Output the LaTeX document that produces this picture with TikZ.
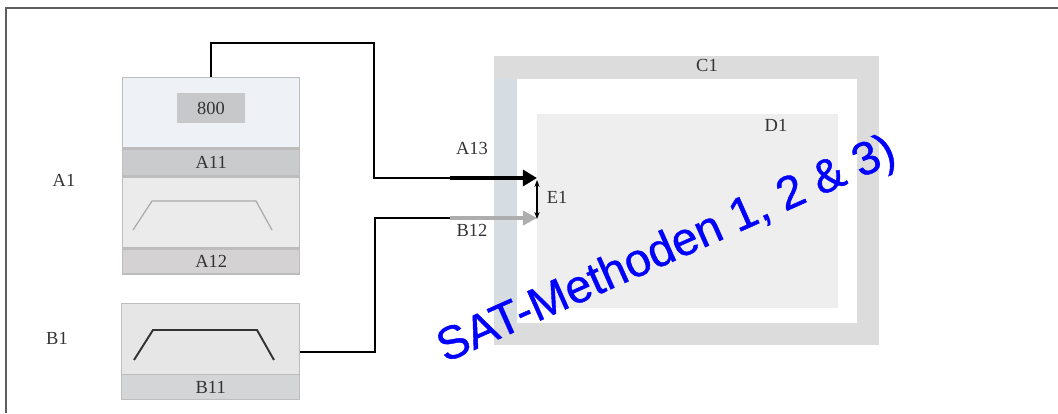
\documentclass[tikz,border=0pt]{standalone}
\usepackage{fontspec}
\setmainfont{Liberation Serif}
\newfontfamily\stampfont[FakeBold=0.9]{Liberation Sans}
\usetikzlibrary{arrows.meta,positioning}
\definecolor{framegray}{HTML}{5E5E5E}
\definecolor{boxline}{HTML}{BDBDBD}
\definecolor{topblue}{HTML}{EEF2F6}
\definecolor{grayband}{HTML}{C9CBCD}
\definecolor{lightarea}{HTML}{EBEBEB}
\definecolor{bandlight}{HTML}{D4D2D2}
\definecolor{boxgray}{HTML}{C6C8CA}
\definecolor{cgray}{HTML}{DCDCDC}
\definecolor{stripblue}{HTML}{D5DCE2}
\definecolor{dgray}{HTML}{EEEEEE}
\definecolor{arrowgray}{HTML}{ADADAD}
\definecolor{labeltext}{HTML}{333333}

\begin{document}
\begin{tikzpicture}[x=0.02cm, y=-0.02cm,
    part/.style={draw=boxline, line width=0.8pt, inner sep=0pt, anchor=north west},
    lbl/.style={font=\fontsize{10.5}{12}\selectfont, text=labeltext},
    wire/.style={line width=1.1pt, black}]
    \useasboundingbox (0,0) rectangle (1058,413);
    \draw[framegray, line width=1.1pt] (6,413) -- (6,8) -- (1058,8);
    % A1 unit
    \node[part, fill=topblue, minimum width=3.54cm, minimum height=1.40cm] (a1top) at (122,77) {};
    \node[fill=boxgray, minimum width=1.38cm, minimum height=0.60cm, lbl] (a1val) at (211,108) {800};
    \node[part, fill=grayband, minimum width=3.54cm, minimum height=0.54cm, below=0pt of a1top, lbl] (a11) {A11};
    \node[part, fill=lightarea, minimum width=3.54cm, minimum height=1.40cm, below=0pt of a11] (a12area) {};
    \node[part, fill=bandlight, minimum width=3.54cm, minimum height=0.50cm, below=0pt of a12area, lbl] (a12) {A12};
    \draw[boxline!90!black, line width=0.7pt] (133,230) -- (152,201) -- (256,201) -- (272,230);
    \node[lbl] (a1lbl) at (64,180) {A1};
    % B1 unit
    \node[part, fill=lightarea!80!bandlight, minimum width=3.56cm, minimum height=1.92cm] (b1) at (121,303) {};
    \node[part, fill=grayband!80!white, minimum width=3.56cm, minimum height=0.50cm, above=0pt of b1.south, lbl] (b11) {B11};
    \draw[labeltext, line width=1.1pt] (134,360) -- (153,330) -- (257,330) -- (274,360);
    \node[lbl] (b1lbl) at (57,338) {B1};
    % C1 and D1
    \node[anchor=north west, fill=cgray, minimum width=7.70cm, minimum height=5.78cm, inner sep=0pt] (c1) at (494,56) {};
    \fill[stripblue] (494,79) rectangle (517,323);
    \node[anchor=north west, fill=white, minimum width=6.80cm, minimum height=4.88cm, inner sep=0pt] (c1in) at (517,79) {};
    \node[anchor=north west, fill=dgray, minimum width=6.02cm, minimum height=3.88cm, inner sep=0pt] (d1) at (537,114) {};
    \node[lbl] (c1lbl) at (707,65) {C1};
    \node[lbl] (d1lbl) at (776,125) {D1};
    % wires and arrows
    \coordinate (cornerA) at (374,43);
    \coordinate (cornerB) at (375,218);
    \coordinate (a13in) at (450,178);
    \coordinate (b12in) at (450,218);
    \draw[wire] (a1top.north) |- (cornerA) |- (a13in);
    \draw[wire] (b1.east) -| (cornerB) -- (b12in);
    \draw[line width=2.8pt, -{Triangle[length=8pt, width=9pt]}] (a13in) -- (a13in -| d1.west);
    \draw[arrowgray, line width=2.2pt, -{Triangle[length=8pt, width=8pt]}] (b12in) -- (b12in -| d1.west);
    \coordinate (e1top) at (537,180);
    \coordinate (e1bot) at (537,219);
    \draw[line width=0.7pt, {Stealth[length=4pt]}-{Stealth[length=4pt]}] (e1top) -- (e1bot);
    \node[lbl] (a13) at (472,148) {A13};
    \node[lbl] (b12) at (472,230) {B12};
    \node[lbl] (e1) at (557,197) {E1};
    % stamp
    \node[anchor=base, rotate=24, text=blue, font=\stampfont\fontsize{26.5}{30}\selectfont] (stamp) at (672,262) {SAT-Methoden 1, 2 \& 3)};
\end{tikzpicture}
\end{document}
